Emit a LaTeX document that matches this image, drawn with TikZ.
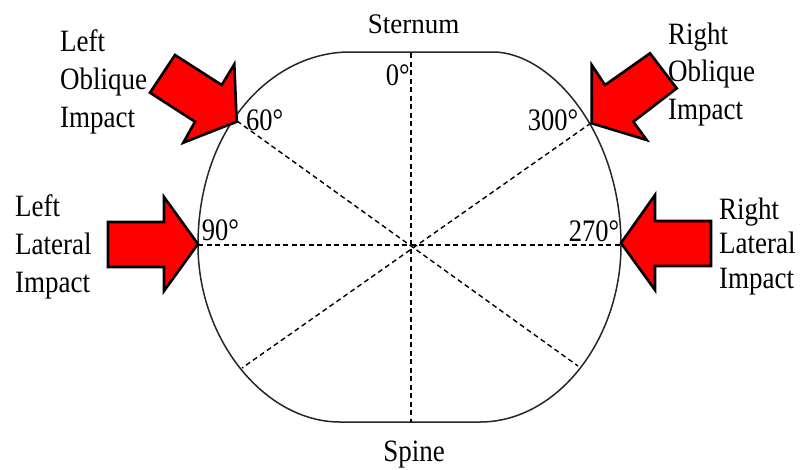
\documentclass[tikz,border=0pt]{standalone}
\usepackage{fontspec}
\setmainfont{Liberation Serif}
\definecolor{arrowred}{RGB}{255,0,0}
\newcommand\stretchlbl[2]{\scalebox{1}[#1]{\begin{tabular}[t]{@{}l@{}}#2\end{tabular}}}
\begin{document}
\begin{tikzpicture}[x=1pt,y=-1pt,
  outline/.style={line width=1.5pt,black!85},
  radial/.style={line width=1.4pt,dash pattern=on 5pt off 3.5pt,black},
  impact/.style={fill=arrowred,draw=black,line width=2.6pt,line join=miter},
  lbl/.style={font=\fontsize{27}{33}\selectfont,inner sep=0pt,anchor=base west},
  deg/.style={font=\fontsize{26.5}{30}\selectfont,inner sep=0pt},
  side/.style={font=\fontsize{27}{30}\selectfont,inner sep=0pt,anchor=base}]
\useasboundingbox (0,0) rectangle (802,469);
\fill[white] (0,0) rectangle (802,469);
% boundary coordinates
\coordinate (c) at (411,245);
\coordinate (top) at (411,53);
\coordinate (bot) at (411,422);
\coordinate (l90) at (198,245);
\coordinate (r270) at (621,245);
\coordinate (p60) at (237,121);
\coordinate (p300) at (591,123);
\coordinate (p120) at (242,368);
\coordinate (p240) at (578,366);
% outline
\draw[outline] (350,52) -- (493,52)
  .. controls (550,52) and (621,132) .. (r270)
  .. controls (621,340) and (557,422) .. (480,422)
  -- (340,422)
  .. controls (265,422) and (198,340) .. (l90)
  .. controls (198,130) and (270,52) .. (350,52) -- cycle;
% radial dashed lines
\draw[radial] (top) -- (bot);
\draw[radial] (l90) -- (r270);
\draw[radial] (p60) -- (p240);
\draw[radial] (p300) -- (p120);
% impact arrows
\draw[impact] (108,222) -- (164,222) -- (164,197) -- (198,244) -- (164,291) -- (164,267) -- (108,267) -- cycle;
\draw[impact] (711,221) -- (655,221) -- (655,195) -- (621,243) -- (655,290) -- (655,266) -- (711,266) -- cycle;
\draw[impact] (175,55) -- (221.7,85) -- (234.3,64.3) -- (236.7,121.7) -- (183.3,142.7) -- (195,121.7) -- (150,92.7) -- cycle;
\draw[impact] (650,53.3) -- (605,85) -- (591.7,65) -- (591.7,123.3) -- (646.7,140) -- (633.3,121.7) -- (676.7,88.3) -- cycle;
% labels
\node[side] (sternum) at (413.5,33.3) {\scalebox{1}[1.05]{Sternum}};
\node[side] (spine) at (414,461) {\scalebox{1}[1.15]{Spine}};
\node[deg,anchor=base east] (d0) at (410,85) {\scalebox{1}[1.18]{0°}};
\node[deg,anchor=base west] (d60) at (246,130.7) {\scalebox{1}[1.18]{60°}};
\node[deg,anchor=base west] (d90) at (201.7,240.7) {\scalebox{1}[1.18]{90°}};
\node[deg,anchor=base east] (d270) at (619.3,241.7) {\scalebox{1}[1.18]{270°}};
\node[deg,anchor=base east] (d300) at (578.3,130) {\scalebox{1}[1.18]{300°}};
\node[lbl] (lo) at (60,51.7) {\stretchlbl{1.15}{Left\\Oblique\\Impact}};
\node[lbl] (ll) at (15,216.7) {\stretchlbl{1.15}{Left\\Lateral\\Impact}};
\node[lbl] (ro) at (668,44) {\stretchlbl{1.15}{Right\\Oblique\\Impact}};
\node[lbl,font=\fontsize{27}{30}\selectfont] (rl) at (719,219) {\stretchlbl{1.15}{Right\\Lateral\\Impact}};
\end{tikzpicture}
\end{document}
